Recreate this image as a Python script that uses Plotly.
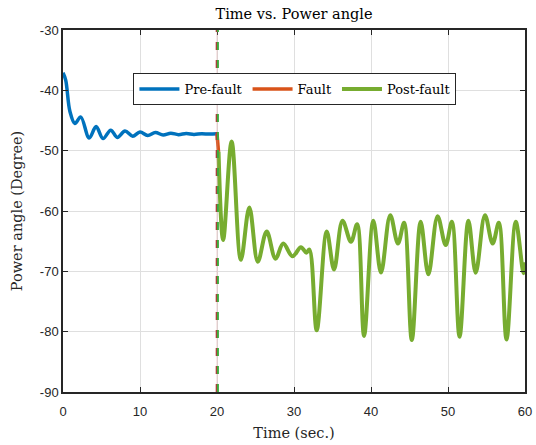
import plotly.graph_objects as go

# ---- data ----
pre_t = [0, 0.35, 0.9, 1.55, 2.3, 3.4, 4.3, 5.2, 6.2, 7.05, 8.05, 9.05, 10.0, 11.0, 12.0,
         13.0, 14.0, 15.0, 16.0, 17.0, 18.0, 19.0, 20.0]
pre_y = [-37.1, -38.3, -43.5, -45.5, -44.4, -47.9, -46.0, -48.0, -46.6, -47.8, -46.75, -47.6,
         -46.9, -47.5, -47.0, -47.4, -47.1, -47.35, -47.15, -47.3, -47.2, -47.25, -47.2]

fault_t = [20.0, 20.1, 20.2]
fault_y = [-47.2, -48.6, -50.2]

post_t = [20.2, 20.8, 21.9, 23.1, 24.2, 25.3, 26.45, 27.6, 28.6, 29.8, 30.9, 31.6, 32.0,
          32.95, 34.25, 35.2, 36.3, 37.4, 38.2, 39.1, 40.3, 41.3, 42.5, 43.5, 44.3, 45.3,
          46.45, 47.45, 48.65, 49.7, 50.5, 51.5, 52.65, 53.6, 54.8, 55.8, 56.6, 57.6, 58.8,
          59.8, 60.0]
post_y = [-50.2, -64.8, -48.5, -68.1, -59.4, -68.4, -63.4, -67.9, -65.4, -67.5, -66.0, -66.9,
          -66.4, -79.75, -63.4, -69.7, -61.6, -65.1, -62.2, -80.7, -61.6, -70.2, -60.7, -65.4,
          -61.95, -81.4, -61.8, -70.5, -60.85, -65.65, -61.8, -80.85, -61.6, -70.25, -60.7,
          -65.4, -61.95, -81.3, -61.8, -70.3, -68.5]

fault_time = 20
x_ticks = [0, 10, 20, 30, 40, 50, 60]
x_tick_labels = ["0", "10", "20", "30", "40", "50", "60"]
y_ticks = [-90, -80, -70, -60, -50, -40, -30]
y_tick_labels = ["-90", "-80", "-70", "-60", "-50", "-40", "-30"]

serif = "DejaVu Serif"
sans = "Liberation Sans, Arial, sans-serif"

fig = go.Figure()
fig.add_trace(go.Scatter(x=pre_t, y=pre_y, mode="lines", name="Pre-fault",
                         line=dict(color="#0072BD", width=3.5, shape="spline", smoothing=1)))
fig.add_trace(go.Scatter(x=fault_t, y=fault_y, mode="lines", name="Fault",
                         line=dict(color="#D95319", width=3.5)))
fig.add_trace(go.Scatter(x=post_t, y=post_y, mode="lines", name="Post-fault",
                         line=dict(color="#77AC30", width=4, shape="spline", smoothing=1)))

# vertical fault markers
fig.add_shape(type="line", x0=fault_time, x1=fault_time, y0=-90, y1=-30, xref="x", yref="y",
              line=dict(color="rgba(220,150,150,0.45)", width=1))
fig.add_shape(type="line", x0=fault_time - 0.04, x1=fault_time - 0.04, y0=-90, y1=-30,
              xref="x", yref="y", line=dict(color="#B03A3A", width=2, dash="8px,10px"))
fig.add_shape(type="line", x0=fault_time + 0.12, x1=fault_time + 0.12, y0=-90, y1=-30,
              xref="x", yref="y", line=dict(color="#3DAA3D", width=2, dash="8px,10px"))

axis_common = dict(showgrid=True, gridcolor="#DFDFDF", gridwidth=1, zeroline=False,
                   showline=True, linecolor="#262626", linewidth=1.5, mirror="ticks",
                   ticks="inside", ticklen=5, tickwidth=1, tickcolor="#262626",
                   automargin=False,
                   tickfont=dict(family=sans, size=13, color="#262626"))

fig.update_layout(
    width=536, height=445,
    margin=dict(l=63, r=11, t=30, b=53),
    paper_bgcolor="white", plot_bgcolor="white",
    title=dict(text="Time vs. Power angle", x=0.5485, xanchor="center", y=0.968,
               yanchor="middle", font=dict(family=serif, size=14.5, color="black")),
    xaxis=dict(range=[0, 60], tickvals=x_ticks, ticktext=x_tick_labels, ticklabelstandoff=7,
               title=dict(text="Time (sec.)", font=dict(family=serif, size=14.5, color="#262626"),
                          standoff=10),
               **axis_common),
    yaxis=dict(range=[-90, -30], tickvals=y_ticks, ticktext=y_tick_labels,
               title=dict(text="Power angle (Degree)",
                          font=dict(family=serif, size=14.5, color="#262626"), standoff=14),
               **axis_common),
    legend=dict(orientation="h", x=0.502, xanchor="center", y=0.881, yanchor="top",
                bgcolor="white", bordercolor="#262626", borderwidth=1,
                font=dict(family=serif, size=13, color="black"),
                itemwidth=40, tracegroupgap=0),
    showlegend=True,
)

fig.write_html("out.html")
